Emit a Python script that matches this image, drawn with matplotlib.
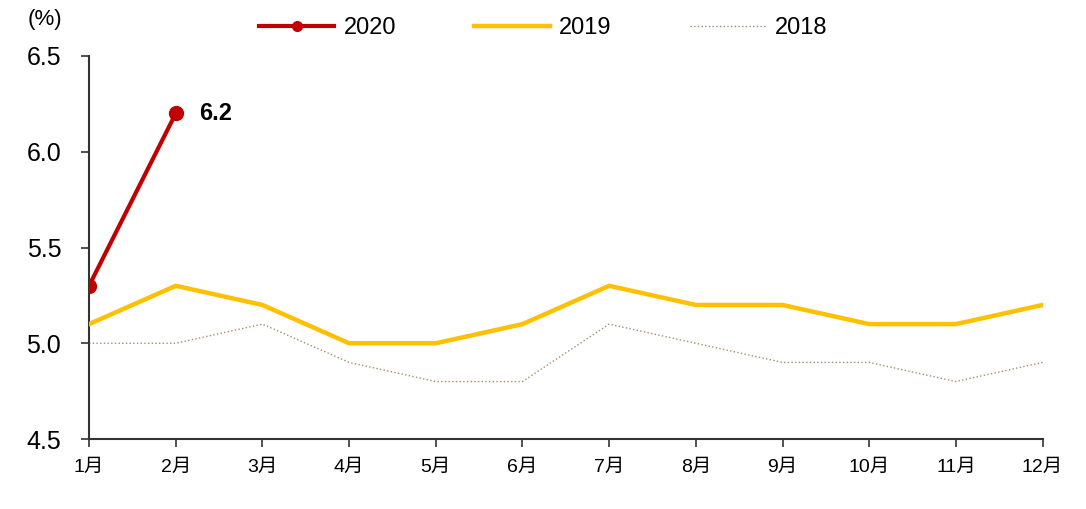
import matplotlib
matplotlib.use("Agg")
import matplotlib.pyplot as plt

plt.rcParams['font.family'] = ['Liberation Sans', 'Noto Sans CJK SC', 'DejaVu Sans']

months = ['1月', '2月', '3月', '4月', '5月', '6月', '7月', '8月', '9月', '10月', '11月', '12月']
y2020 = [5.3, 6.2]
y2019 = [5.1, 5.3, 5.2, 5.0, 5.0, 5.1, 5.3, 5.2, 5.2, 5.1, 5.1, 5.2]
y2018 = [5.0, 5.0, 5.1, 4.9, 4.8, 4.8, 5.1, 5.0, 4.9, 4.9, 4.8, 4.9]
yticks = [4.5, 5.0, 5.5, 6.0, 6.5]

fig = plt.figure(figsize=(10.86, 5.09), dpi=100)
ax = fig.add_axes([0.082, 0.1375, 0.878, 0.7525])

x = range(len(months))
ax.plot(x, y2020 + [None] * (len(months) - len(y2020)), color='#c00000', lw=3,
        marker='o', markersize=10, label='2020', zorder=4)
ax.plot(x, y2019, color='#ffc000', lw=3.2, label='2019', zorder=3)
ax.plot(x, y2018, color='#a88c6a', lw=1.0, ls=':', label='2018', zorder=2)

ax.annotate(f'{y2020[-1]:.1f}', xy=(1, y2020[-1]), xytext=(17, 0), textcoords='offset points',
            fontsize=17, fontweight='bold', va='center', ha='left')

ax.set_xlim(0, 11)
ax.set_ylim(4.5, 6.5)
ax.set_xticks(list(x))
ax.set_xticklabels(months, fontsize=14)
ax.set_yticks(yticks)
ax.set_yticklabels([f'{v:.1f}' for v in yticks], fontsize=18)
ax.tick_params(axis='both', direction='out', length=6, width=1.2, color='#333333')
ax.tick_params(axis='x', pad=8)
ax.tick_params(axis='y', pad=14)
for s in ['top', 'right']:
    ax.spines[s].set_visible(False)
for s in ['left', 'bottom']:
    ax.spines[s].set_linewidth(1.5)
    ax.spines[s].set_color('#333333')

fig.text(0.025, 0.962, '(%)', fontsize=16, va='center')

ax.legend(loc='center', bbox_to_anchor=(0.5, 0.945), bbox_transform=fig.transFigure,
          ncol=3, frameon=False, fontsize=17, handlelength=3.2, columnspacing=3.3,
          handletextpad=0.4, markerscale=0.7)

fig.savefig('out.png', dpi=100)
